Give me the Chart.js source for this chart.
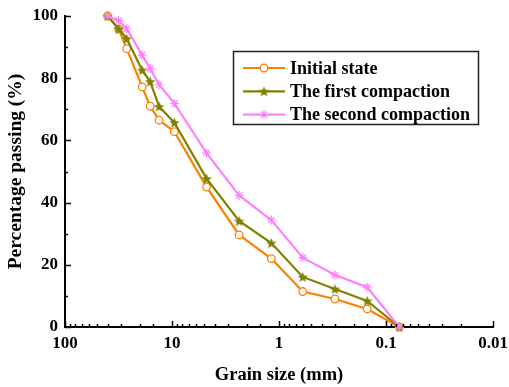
<!DOCTYPE html>
<html><head><meta charset="utf-8">
<script src="https://cdn.jsdelivr.net/npm/chart.js@4"></script>
<style>html,body{margin:0;padding:0;background:#fff;}#wrap{position:relative;width:509px;height:387px;}</style>
</head><body><div id="wrap"><canvas id="c" width="509" height="387"></canvas></div>
<script>
const grainSizes = [40, 31.5, 26.5, 19, 16, 13.2, 9.5, 4.75, 2.36, 1.18, 0.6, 0.3, 0.15, 0.075];
const initialState = [100, 95.8, 89.5, 77.2, 71, 66.5, 62.8, 45, 29.6, 22, 11.4, 9.0, 5.8, 0];
const firstCompaction = [100, 95.9, 92.7, 82.6, 78.9, 70.9, 65.7, 47.7, 34.1, 27, 16.1, 12.2, 8.4, 0];
const secondCompaction = [100, 98.5, 95.9, 87.4, 83.1, 77.9, 71.9, 55.9, 42.3, 34.4, 22.3, 16.7, 12.8, 0];
const seriesNames = ['Initial state', 'The first compaction', 'The second compaction'];
const xTickLabels = [100, 10, 1, 0.1, 0.01];
const yTickLabels = [0, 20, 40, 60, 80, 100];
const yMinorTicks = [10, 30, 50, 70, 90];

const FONT = '"Liberation Serif", "Times New Roman", serif';
const ORANGE = '#FF8000', OLIVE = '#808000', PINK = '#FF80FF';

function makeStar(r, color) {
  const s = Math.ceil(r * 2) + 2;
  const c = document.createElement('canvas');
  c.width = s; c.height = s;
  const g = c.getContext('2d');
  g.fillStyle = color;
  g.beginPath();
  for (let i = 0; i < 10; i++) {
    const rad = i % 2 ? r * 0.45 : r;
    const a = -Math.PI / 2 + i * Math.PI / 5;
    g.lineTo(s / 2 + rad * Math.cos(a), s / 2 + 0.6 + rad * Math.sin(a));
  }
  g.closePath(); g.fill();
  return c;
}
const starImg = makeStar(5.5, OLIVE);

function pts(vals) { return grainSizes.map((g, i) => ({ x: g, y: vals[i] })); }

const datasets = [
  { label: seriesNames[0], data: pts(initialState), borderColor: ORANGE, backgroundColor: '#fff',
    pointStyle: 'circle', pointRadius: 3.8, pointBorderWidth: 1.3, pointBorderColor: ORANGE, pointBackgroundColor: '#fff',
    borderWidth: 2.2, order: 3, clip: false },
  { label: seriesNames[1], data: pts(firstCompaction), borderColor: OLIVE, backgroundColor: OLIVE,
    pointStyle: starImg, pointRadius: 5, borderWidth: 2.2, order: 2, clip: false },
  { label: seriesNames[2], data: pts(secondCompaction), borderColor: PINK, backgroundColor: PINK,
    pointStyle: 'star', pointRadius: 4.5, pointBorderWidth: 1.2, pointBorderColor: PINK,
    borderWidth: 2.2, order: 1, clip: false }
];

function isMajor(v) { const l = Math.log10(v); return Math.abs(l - Math.round(l)) < 1e-6; }

const axisTicks = {
  id: 'axisTicks',
  afterDraw(chart) {
    const { ctx, chartArea: a, scales: { x, y } } = chart;
    ctx.save();
    ctx.strokeStyle = '#000'; ctx.lineWidth = 1.5;
    x.ticks.forEach(t => {
      const px = Math.round(x.getPixelForValue(t.value)) + 0.5;
      const len = isMajor(t.value) ? 6 : 3;
      ctx.beginPath(); ctx.moveTo(px, a.bottom); ctx.lineTo(px, a.bottom - len); ctx.stroke();
    });
    yTickLabels.forEach(v => {
      const py = Math.round(y.getPixelForValue(v)) + 0.5;
      ctx.beginPath(); ctx.moveTo(a.left, py); ctx.lineTo(a.left + 6, py); ctx.stroke();
    });
    yMinorTicks.forEach(v => {
      const py = Math.round(y.getPixelForValue(v)) + 0.5;
      ctx.beginPath(); ctx.moveTo(a.left, py); ctx.lineTo(a.left + 3, py); ctx.stroke();
    });
    ctx.restore();
  }
};

const boxLegend = {
  id: 'boxLegend',
  afterDraw(chart) {
    const { ctx, chartArea: a } = chart;
    const bx = a.left + 168, by = a.top + 35, bw = 245, bh = 73;
    ctx.save();
    ctx.fillStyle = '#fff';
    ctx.fillRect(bx, by, bw, bh);
    ctx.strokeStyle = '#222'; ctx.lineWidth = 1.5;
    ctx.strokeRect(bx + 0.5, by + 0.5, bw, bh);
    ctx.font = 'bold 18px ' + FONT;
    ctx.textBaseline = 'middle'; ctx.textAlign = 'left'; ctx.fillStyle = '#000';
    datasets.forEach((ds, i) => {
      const ry = by + 17 + i * 23.3;
      ctx.strokeStyle = ds.borderColor; ctx.lineWidth = 2.2;
      ctx.beginPath(); ctx.moveTo(bx + 10, ry); ctx.lineTo(bx + 52, ry); ctx.stroke();
      if (i === 0) {
        ctx.fillStyle = '#fff'; ctx.strokeStyle = ORANGE; ctx.lineWidth = 1.3;
        Chart.helpers.drawPoint(ctx, { pointStyle: 'circle', radius: 3.8, rotation: 0, borderWidth: 1.3 }, bx + 31, ry);
      } else if (i === 1) {
        ctx.drawImage(starImg, bx + 31 - starImg.width / 2, ry - starImg.height / 2);
      } else {
        ctx.strokeStyle = PINK; ctx.lineWidth = 1.2;
        Chart.helpers.drawPoint(ctx, { pointStyle: 'star', radius: 4.5, rotation: 0, borderWidth: 1.2 }, bx + 31, ry);
      }
      ctx.fillStyle = '#000';
      ctx.fillText(ds.label, bx + 57, ry + 1);
    });
    ctx.restore();
  }
};

new Chart(document.getElementById('c'), {
  type: 'line',
  data: { datasets },
  plugins: [axisTicks, boxLegend],
  options: {
    responsive: false,
    animation: false,
    events: [],
    layout: { padding: { top: 16, right: 16, left: 0, bottom: 0 } },
    plugins: { legend: { display: false }, tooltip: { enabled: false } },
    elements: { line: { tension: 0 } },
    scales: {
      x: {
        type: 'logarithmic', reverse: true, min: 0.01, max: 100,
        grid: { display: false, drawTicks: false },
        border: { display: true, width: 2, color: '#000' },
        ticks: {
          autoSkip: false, maxRotation: 0, padding: 6, color: '#000',
          font: { family: FONT, size: 17, weight: 'bold' },
          callback: (v) => { const m = xTickLabels.find(t => Math.abs(t - v) / t < 1e-6); return m === undefined ? '' : String(m); }
        },
        title: { display: true, text: 'Grain size (mm)', color: '#000',
          font: { family: FONT, size: 18.5, weight: 'bold' }, padding: { top: 0, bottom: 1 } },
        afterFit: (s) => { s.height = 60; s.paddingLeft = 0; s.paddingRight = 0; }
      },
      y: {
        min: 0, max: 100,
        grid: { display: false, drawTicks: false },
        border: { display: true, width: 2, color: '#000' },
        afterBuildTicks: (s) => { s.ticks = yTickLabels.map(v => ({ value: v })); },
        ticks: { padding: 7, color: '#000', font: { family: FONT, size: 17, weight: 'bold' } },
        title: { display: true, text: 'Percentage passing (%)', color: '#000',
          font: { family: FONT, size: 19.5, weight: 'bold' }, padding: { top: 4, bottom: 0 } },
        afterFit: (s) => { s.width = 65; s.paddingTop = 0; s.paddingBottom = 0; }
      }
    }
  }
});
</script>
</body></html>
